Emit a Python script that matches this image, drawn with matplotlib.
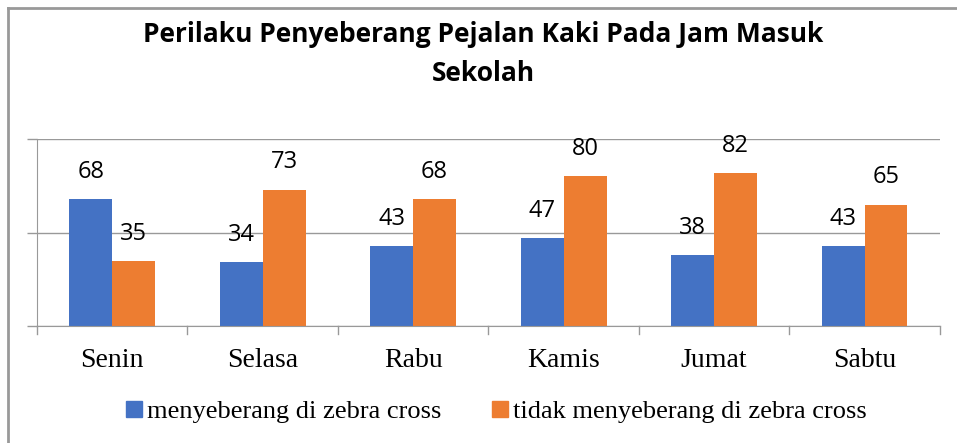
"""
Grafik perilaku penyeberang pejalan kaki pada jam masuk sekolah.
"""

import matplotlib.pyplot as plt
from matplotlib.lines import Line2D
import numpy as np

hari = ['Senin', 'Selasa', 'Rabu', 'Kamis', 'Jumat', 'Sabtu']
zebra = [68, 34, 43, 47, 38, 43]
tidak_zebra = [35, 73, 68, 80, 82, 65]

label_zebra = 'menyeberang di zebra cross'
label_tidak = 'tidak menyeberang di zebra cross'
judul = 'Perilaku Penyeberang Pejalan Kaki Pada Jam Masuk\nSekolah'

biru = '#4472C4'
oranye = '#ED7D31'
abu = '#999999'

fig = plt.figure(figsize=(9.57, 4.43), dpi=100)
ax = fig.add_axes([0.0387, 0.264, 0.9433, 0.422])

x = np.arange(len(hari))
w = 0.285
b1 = ax.bar(x - w / 2, zebra, w, color=biru)
b2 = ax.bar(x + w / 2, tidak_zebra, w, color=oranye)

for bars in (b1, b2):
    for r in bars:
        ax.text(r.get_x() + r.get_width() / 2, r.get_height() + 14.5, str(int(r.get_height())),
                ha='center', va='center', fontsize=17, family='Open Sans')

ax.set_xlim(-0.5, len(hari) - 0.5)
ax.set_ylim(0, 100)
ax.set_yticks([0, 50, 100])
ax.set_yticklabels([])
ax.grid(axis='y', color=abu, linewidth=1)
ax.set_axisbelow(True)
ax.tick_params(axis='y', length=7, color=abu, width=1)

ax.set_xticks(x)
ax.set_xticklabels(hari, family='Liberation Serif', fontsize=20)
ax.tick_params(axis='x', length=0, pad=16)
for b in np.arange(-0.5, len(hari), 1.0):
    ax.plot([b, b], [0, -0.04], transform=ax.get_xaxis_transform(), color=abu,
            linewidth=1, clip_on=False)

for s in ['top', 'right']:
    ax.spines[s].set_visible(False)
ax.spines['left'].set_color(abu)
ax.spines['bottom'].set_color(abu)

fig.text(0.505, 0.878, judul, ha='center', va='center', fontsize=19,
         fontweight='bold', family='Open Sans', linespacing=1.6)

handles = [Line2D([], [], marker='s', linestyle='none', markersize=11, color=biru),
           Line2D([], [], marker='s', linestyle='none', markersize=11, color=oranye)]
fig.legend(handles, [label_zebra, label_tidak], loc='center', bbox_to_anchor=(0.516, 0.072),
           ncol=2, frameon=False, prop={'family': 'Liberation Serif', 'size': 19},
           handletextpad=0.0, columnspacing=1.7, handlelength=1)

# bingkai luar
fig.add_artist(Line2D([8 / 957, 1], [1 - 8 / 443, 1 - 8 / 443], color=abu, linewidth=2))
fig.add_artist(Line2D([8 / 957, 8 / 957], [0, 1 - 8 / 443], color=abu, linewidth=2))

plt.savefig('out.png', dpi=100)
